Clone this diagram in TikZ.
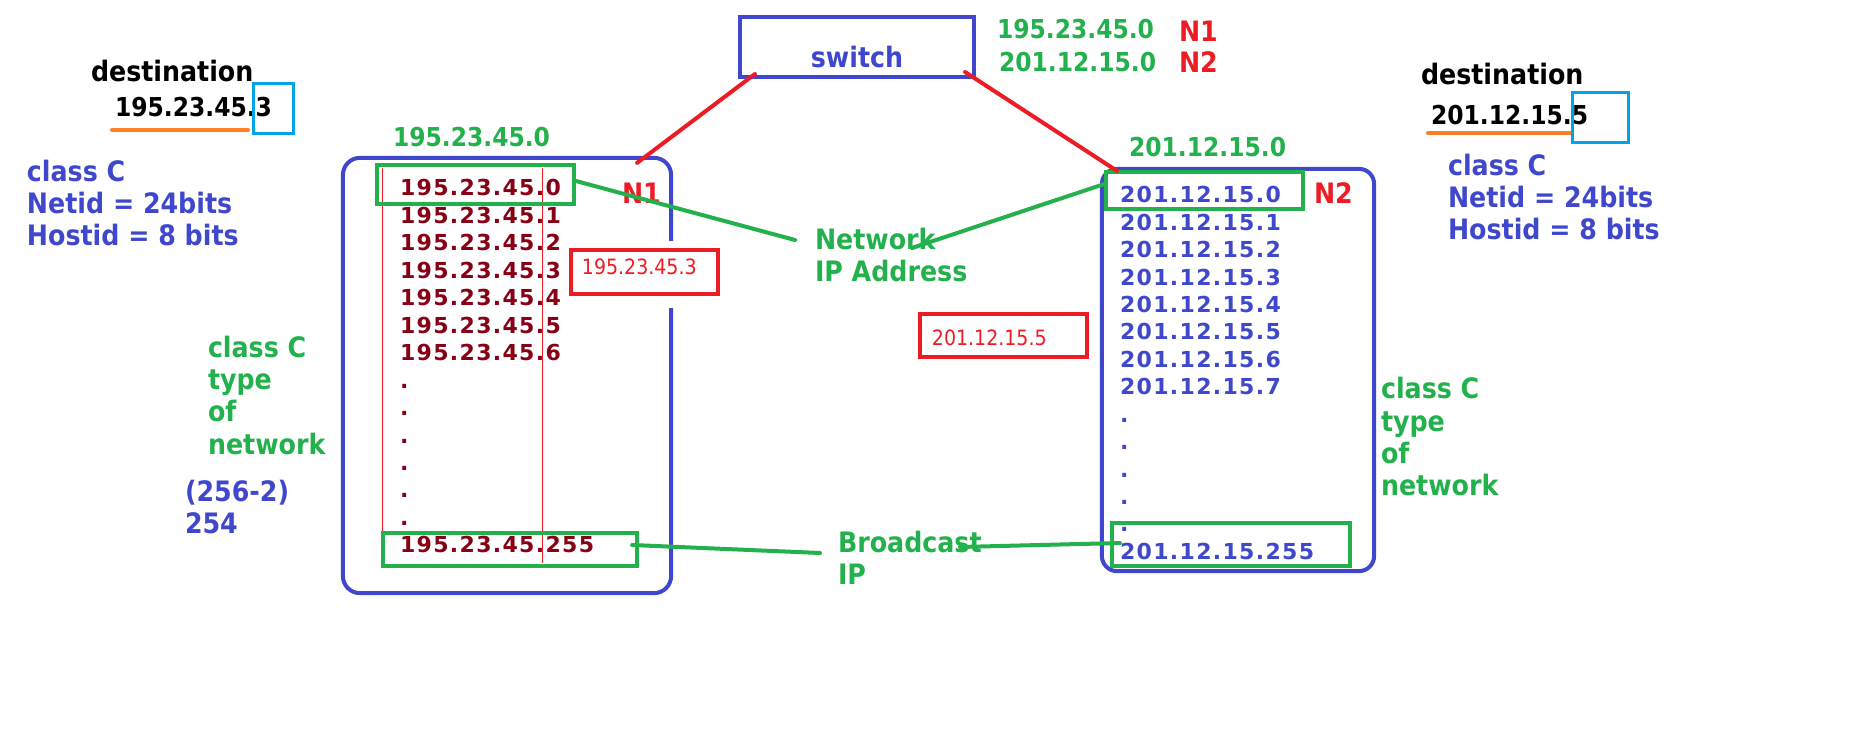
\documentclass[tikz,border=0pt]{standalone}
\usepackage{fontspec}
\usepackage{tikz}
\usetikzlibrary{positioning,calc}
\newfontfamily\tahoma{DejaVu Sans Condensed}
\newfontfamily\verdana[LetterSpace=6]{DejaVu Sans}
\definecolor{pblue}{RGB}{63,72,204}
\definecolor{pgreen}{RGB}{34,177,76}
\definecolor{pred}{RGB}{237,28,36}
\definecolor{pdark}{RGB}{136,0,21}
\definecolor{porange}{RGB}{255,127,39}
\definecolor{pcyan}{RGB}{0,162,232}
\tikzstyle{lbl}=[inner sep=0pt, outer sep=0pt, anchor=base west, align=left,
  font=\tahoma\bfseries\fontsize{8}{9.1}\selectfont]
\tikzstyle{iptag}=[lbl, font=\tahoma\bfseries\fontsize{7.4}{9}\selectfont]
\tikzstyle{hostip}=[inner sep=0pt, outer sep=0pt, anchor=base west,
  font=\verdana\bfseries\fontsize{6.26}{8}\selectfont]
\tikzstyle{netbox}=[draw=pblue, line width=0.04cm, rounded corners=0.17cm]
\tikzstyle{greenbox}=[draw=pgreen, line width=0.04cm, inner sep=0pt, outer sep=0pt]
\tikzstyle{redbox}=[draw=pred, line width=0.04cm, inner ysep=0pt, align=left,
  text=pred, font=\tahoma\fontsize{6}{7}\selectfont]
\tikzstyle{hostbox}=[draw=pcyan, line width=0.03cm, inner sep=0pt]
\tikzstyle{link}=[draw=pred, line width=0.04cm, line cap=round]
\tikzstyle{glink}=[draw=pgreen, line width=0.04cm, line cap=round]
\begin{document}
\begin{tikzpicture}[x=0.01cm, y=-0.01cm]
  \useasboundingbox (0,0) rectangle (1852,743);

  % switch
  \node [draw=pblue, line width=0.04cm, minimum width=2.34cm, minimum height=0.60cm,
    inner sep=0pt, text=pblue, font=\tahoma\bfseries\fontsize{8}{9}\selectfont,
    text height=0.40cm, text depth=0cm] (sw) at (857,47) {switch};
  \node [iptag, text=pgreen] (t1) at (997,39) {195.23.45.0};
  \node [lbl, text=pred] (t1n) at (1179,42) {N1};
  \node [iptag, text=pgreen] (t2) at (999,72) {201.12.15.0};
  \node [lbl, text=pred] (t2n) at (1179,73) {N2};

  % left side
  \node [lbl] (dest1) at (91,82) {destination};
  \node [iptag, text=black] (dip1) at (115,117) {195.23.45.3};
  \draw [porange, line width=0.04cm, line cap=round] (112,130) -- (248,130);
  \node [hostbox, minimum width=0.39cm, minimum height=0.49cm] (host1) at (273.5,108.5) {};
  \node [lbl, text=pblue] (cls1) at (27,246) {class C\\Netid = 24bits\\Hostid = 8 bits};
  \node [lbl, text=pgreen] (type1) at (208,454) {class C\\type\\of\\network};
  \node [lbl, text=pblue] (cnt1) at (185,533) {(256-2)\\254};

  % network N1
  \node [iptag, text=pgreen] (net1) at (393,147) {195.23.45.0};
  \node [inner sep=0pt, outer sep=0pt, minimum width=3.28cm, minimum height=4.35cm]
    (lan1) at (507,375.5) {};
  \node [redbox, text width=1.25cm, inner xsep=0.11cm, minimum height=0.44cm,
    text height=0.14cm, text depth=0.10cm] (dst1) at (644.5,272) {195.23.45.3};
  \draw [netbox] ($(lan1.east |- dst1.north)+(0,-7)$) -- (lan1.north east)
    -- (lan1.north west) -- (lan1.south west) -- (lan1.south east)
    -- ($(lan1.east |- dst1.south)+(0,12)$);
  \draw [pred, line width=0.01cm] (382,168) -- (382,563);
  \draw [pred, line width=0.01cm] (542,168) -- (542,563);
  \foreach \i in {0,...,6}
    \node [hostip, text=pdark] (a\i) at (400,{196+27.45*\i}) {195.23.45.\i};
  \foreach \i in {7,...,12}
    \node [hostip, text=pdark] (a\i) at (400,{196+27.45*\i}) {.};
  \node [hostip, text=pdark] (a13) at (400,{196+27.45*13}) {195.23.45.255};
  \node [greenbox, minimum width=1.97cm, minimum height=0.39cm] (nid1) at (475.5,184.5) {};
  \node [greenbox, minimum width=2.54cm, minimum height=0.33cm] (bid1) at (510,549.5) {};
  \node [lbl, text=pred] (n1a) at (622,204) {N1};

  % middle
  \node [lbl, text=pgreen] (netlbl) at (815,282) {Network\\IP Address};
  \node [lbl, text=pgreen] (bclbl) at (838,584) {Broadcast\\IP};
  \node [redbox, text width=1.43cm, inner xsep=0.12cm, minimum height=0.43cm,
    text height=0.24cm, text depth=0.05cm] (dst2) at (1003.5,335.5) {201.12.15.5};

  % network N2
  \node [iptag, text=pgreen] (net2) at (1129,157) {201.12.15.0};
  \node [netbox, rounded corners=0.15cm, minimum width=2.72cm, minimum height=4.02cm,
    inner sep=0pt] (lan2) at (1238,370) {};
  \foreach \i in {0,...,7}
    \node [hostip, text=pblue] (b\i) at (1120,{203+27.4*\i}) {201.12.15.\i};
  \foreach \i in {8,...,12}
    \node [hostip, text=pblue] (b\i) at (1120,{203+27.4*\i}) {.};
  \node [hostip, text=pblue] (b13) at (1120,{203+27.4*13}) {201.12.15.255};
  \node [greenbox, minimum width=1.97cm, minimum height=0.37cm] (nid2) at (1204.5,190.5) {};
  \node [greenbox, minimum width=2.38cm, minimum height=0.43cm] (bid2) at (1231,544.5) {};
  \node [lbl, text=pred] (n2a) at (1314,204) {N2};
  \node [lbl, text=pgreen] (type2) at (1381,495) {class C\\type\\of\\network};

  % right side
  \node [lbl] (dest2) at (1421,85) {destination};
  \node [iptag, text=black] (dip2) at (1431,125) {201.12.15.5};
  \draw [porange, line width=0.04cm, line cap=round] (1428,133) -- (1572,133);
  \node [hostbox, minimum width=0.56cm, minimum height=0.49cm] (host2) at (1600,117.5) {};
  \node [lbl, text=pblue] (cls2) at (1448,240) {class C\\Netid = 24bits\\Hostid = 8 bits};

  % links
  \draw [link] ([xshift=0.17cm,yshift=0.05cm]sw.south west)
    -- ([xshift=-0.34cm,yshift=-0.05cm]lan1.north east);
  \draw [link] ([xshift=-0.11cm,yshift=0.07cm]sw.south east)
    -- ([xshift=0.17cm,yshift=-0.04cm]lan2.north west);
  \draw [glink] ([yshift=0.04cm]nid1.east) -- ($(netlbl.base west)+(-20,-42)$);
  \draw [glink] ($(netlbl.base west)+(97,-34)$) -- ([yshift=0.07cm]nid2.west);
  \draw [glink] ($(bid1.east)+(-5,-4.5)$) -- ($(bclbl.base west)+(-18,-31)$);
  \draw [glink] ($(bclbl.base west)+(122,-37)$) -- ($(bid2.west)+(8,-1.5)$);
\end{tikzpicture}
\end{document}
